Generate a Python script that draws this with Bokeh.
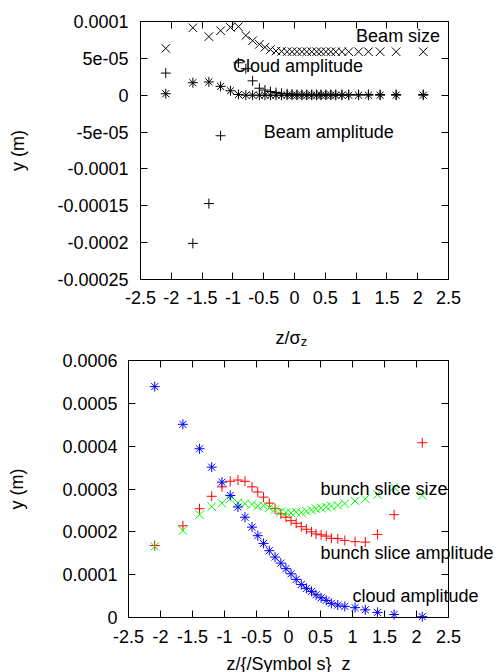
from bokeh.plotting import figure
from bokeh.models import LinearAxis, FixedTicker, CustomJSTickFormatter, Label, Range1d
from bokeh.layouts import column
from bokeh.embed import file_html
from bokeh.resources import INLINE

# ---------------- data ----------------
z = [-2.09, -1.65, -1.39, -1.20, -1.04, -0.91, -0.79, -0.68, -0.57, -0.48, -0.39,
     -0.30, -0.21, -0.12, -0.04, 0.04, 0.12, 0.20, 0.28, 0.36, 0.43, 0.51, 0.59,
     0.67, 0.77, 0.88, 1.04, 1.20, 1.39, 1.65, 2.09]

# top panel
beam_size = [6.35e-5, 9.15e-5, 7.95e-5, 8.75e-5, 9.2e-5, 9.3e-5, 8.1e-5, 7.4e-5, 6.9e-5,
             6.5e-5, 6.2e-5, 6.0e-5, 5.95e-5, 5.9e-5, 5.9e-5, 5.9e-5, 5.9e-5, 5.9e-5,
             5.9e-5, 5.9e-5, 5.9e-5, 5.9e-5, 5.9e-5, 5.9e-5, 5.9e-5, 5.9e-5, 5.9e-5,
             5.9e-5, 5.9e-5, 5.9e-5, 5.9e-5]
beam_amp = [3.0e-5, -2.01e-4, -1.47e-4, -5.5e-5, float("nan"), 4.4e-5, 3.6e-5, 1.95e-5,
            0.95e-5, 0.7e-5, 0.5e-5, 0.35e-5, 0.25e-5, 0.2e-5, 0.15e-5, 0.1e-5, 0.1e-5,
            0.1e-5, 0.1e-5, 0.1e-5, 0.1e-5, 0.1e-5, 0.1e-5, 0.1e-5, 0.1e-5, 0.1e-5,
            0.1e-5, 0.1e-5, 0.1e-5, 0.1e-5, 0.1e-5]
cloud_amp_top = [0.2e-5, 1.7e-5, 1.8e-5, 1.2e-5, 0.6e-5, 0.1e-5, 0.0, 0.0, 0.0, 0.0, 0.0,
                 0.0, 0.0, 0.0, 0.0, 0.0, 0.0, 0.0, 0.0, 0.0, 0.0, 0.0, 0.0, 0.0, 0.0,
                 0.0, 0.0, 0.0, 0.0, 0.0, 0.0]

# bottom panel
slice_amp = [1.68e-4, 2.14e-4, 2.54e-4, 2.83e-4, 3.05e-4, 3.18e-4, 3.21e-4, 3.18e-4,
             3.05e-4, 2.93e-4, 2.81e-4, 2.67e-4, 2.54e-4, 2.42e-4, 2.34e-4, 2.26e-4,
             2.20e-4, 2.12e-4, 2.06e-4, 2.00e-4, 1.95e-4, 1.93e-4, 1.90e-4, 1.85e-4,
             1.84e-4, 1.80e-4, 1.77e-4, 1.76e-4, 1.94e-4, 2.40e-4, 4.08e-4]
slice_size = [1.66e-4, 2.03e-4, 2.40e-4, 2.59e-4, 2.67e-4, 2.77e-4, 2.68e-4, 2.66e-4,
              2.64e-4, 2.60e-4, 2.61e-4, 2.56e-4, 2.52e-4, 2.47e-4, 2.45e-4, 2.44e-4,
              2.46e-4, 2.45e-4, 2.48e-4, 2.51e-4, 2.54e-4, 2.56e-4, 2.58e-4, 2.60e-4,
              2.62e-4, 2.66e-4, 2.72e-4, 2.77e-4, 2.87e-4, 3.04e-4, 2.85e-4]
cloud_amp = [5.39e-4, 4.51e-4, 3.94e-4, 3.51e-4, 3.16e-4, 2.85e-4, 2.58e-4, 2.34e-4,
             2.11e-4, 1.91e-4, 1.73e-4, 1.56e-4, 1.41e-4, 1.27e-4, 1.14e-4, 1.02e-4,
             0.89e-4, 0.77e-4, 0.68e-4, 0.61e-4, 0.53e-4, 0.46e-4, 0.40e-4, 0.33e-4,
             0.29e-4, 0.26e-4, 0.23e-4, 0.18e-4, 0.12e-4, 0.07e-4, 0.02e-4]

x_ticks = [-2.5, -2.0, -1.5, -1.0, -0.5, 0.0, 0.5, 1.0, 1.5, 2.0, 2.5]
y_ticks_top = [-0.00025, -0.0002, -0.00015, -0.0001, -0.00005, 0.0, 0.00005, 0.0001]
y_ticks_bot = [0.0, 0.0001, 0.0002, 0.0003, 0.0004, 0.0005, 0.0006]

X_MIN, X_MAX = -2.5, 2.5
Y_TOP = (-0.00025, 0.0001)
Y_BOT = (0.0, 0.0006)

FONT = "Liberation Sans"
FS = "18px"

G_FMT = """
const v = tick;
const a = Math.abs(v);
if (a < 1e-12) return "0";
const e = Math.floor(Math.log10(a) + 1e-9);
if (e < -4) {
  const m = Math.round(v / Math.pow(10, e) * 1e5) / 1e5;
  const ee = -e;
  return m.toString() + "e-" + (ee < 10 ? "0" + ee : "" + ee);
}
return parseFloat(v.toPrecision(6)).toString();
"""


def make_axis(ticks, bounds, fixed, blank=False, standoff=8):
    ax = LinearAxis(bounds=bounds, fixed_location=fixed)
    ax.ticker = FixedTicker(ticks=ticks)
    ax.axis_line_color = "black"
    ax.axis_line_width = 1
    ax.major_tick_line_color = "black"
    ax.major_tick_in = 7
    ax.major_tick_out = 0
    ax.minor_tick_in = 0
    ax.minor_tick_out = 0
    ax.major_label_text_font = FONT
    ax.major_label_text_color = "black"
    if blank:
        ax.formatter = CustomJSTickFormatter(code="return '';")
        ax.major_label_text_font_size = "1px"
        ax.major_label_standoff = 0
    else:
        ax.formatter = CustomJSTickFormatter(code=G_FMT)
        ax.major_label_text_font_size = FS
        ax.major_label_standoff = standoff
    ax.axis_label_text_font = FONT
    ax.axis_label_text_font_size = FS
    ax.axis_label_text_font_style = "normal"
    ax.axis_label_text_color = "black"
    return ax


def base_fig(w, h, xr, yr):
    # the frame fills the whole canvas; the plot box is drawn by fixed-location axes
    p = figure(frame_width=w, frame_height=h, min_border=0,
               min_border_left=0, min_border_right=0,
               min_border_top=0, min_border_bottom=0,
               x_range=Range1d(*xr), y_range=Range1d(*yr),
               x_axis_location=None, y_axis_location=None,
               output_backend="svg", toolbar_location=None)
    p.grid.visible = False
    p.outline_line_color = None
    p.background_fill_color = "white"
    p.border_fill_color = "white"
    return p


def add_box_axes(p, yticks, ybounds, ytick_standoff, ylab_standoff, xtick_standoff):
    ax_l = make_axis(yticks, ybounds, X_MIN, standoff=ytick_standoff)
    ax_l.axis_label = "y (m)"
    ax_l.axis_label_standoff = ylab_standoff
    p.add_layout(ax_l, "left")
    ax_b = make_axis(x_ticks, (X_MIN, X_MAX), ybounds[0], standoff=xtick_standoff)
    p.add_layout(ax_b, "below")
    p.add_layout(make_axis(x_ticks, (X_MIN, X_MAX), ybounds[1], blank=True), "above")
    p.add_layout(make_axis(yticks, ybounds, X_MAX, blank=True), "right")
    return ax_b


def add_text(p, x, y, text, size=FS, align="left", baseline="middle", y_offset=0):
    p.add_layout(Label(x=x, y=y, text=text, text_font=FONT, text_font_size=size,
                       text_color="black", text_align=align, text_baseline=baseline,
                       y_offset=y_offset))


# ---------------- top panel (canvas 502 x 352; plot box x 140..448, y 21..279) ----------------
sx1 = 308 / (X_MAX - X_MIN)
sy1 = 258 / (Y_TOP[1] - Y_TOP[0])
p1 = base_fig(502, 352,
              (X_MIN - 140 / sx1, X_MAX + 54 / sx1),
              (Y_TOP[0] - 73 / sy1, Y_TOP[1] + 21 / sy1))
add_box_axes(p1, y_ticks_top, Y_TOP, 12, 26, 11)

p1.scatter(z, beam_size, marker="x", size=12, line_color="black", line_width=1)
p1.scatter(z, beam_amp, marker="cross", size=10, line_color="black", line_width=1)
p1.scatter(z, cloud_amp_top, marker="asterisk", size=10, line_color="black", line_width=1)
add_text(p1, 1.0, 0.00008, "Beam size")
add_text(p1, -1.0, 0.00004, "Cloud amplitude")
add_text(p1, -0.5, -0.00005, "Beam amplitude")
# x-axis title z/sigma_z with a subscript z
add_text(p1, 0.1, Y_TOP[0], "z/σ", align="right", baseline="alphabetic", y_offset=-58)
add_text(p1, 0.1, Y_TOP[0], "z", size="13px", align="left", baseline="alphabetic", y_offset=-62)

# ---------------- bottom panel (canvas 502 x 320; plot box x 128..448, y 8..265) ----------------
sx2 = 320 / (X_MAX - X_MIN)
sy2 = 257 / (Y_BOT[1] - Y_BOT[0])
p2 = base_fig(502, 320,
              (X_MIN - 128 / sx2, X_MAX + 54 / sx2),
              (Y_BOT[0] - 55 / sy2, Y_BOT[1] + 8 / sy2))
ax_b2 = add_box_axes(p2, y_ticks_bot, Y_BOT, 11, 32, 12)
ax_b2.axis_label = "z/{/Symbol s}_z"
ax_b2.axis_label_standoff = 8

p2.scatter(z, slice_amp, marker="cross", size=10, line_color="#ff0000", line_width=1)
p2.scatter(z, slice_size, marker="x", size=12, line_color="#00ff00", line_width=1)
p2.scatter(z, cloud_amp, marker="asterisk", size=10, line_color="#0000ff", line_width=1)
add_text(p2, 0.5, 0.0003, "bunch slice size")
add_text(p2, 0.5, 0.00015, "bunch slice amplitude")
add_text(p2, 1.0, 0.00005, "cloud amplitude")

layout = column(p1, p2)
open("out.html", "w").write(file_html(layout, INLINE))
